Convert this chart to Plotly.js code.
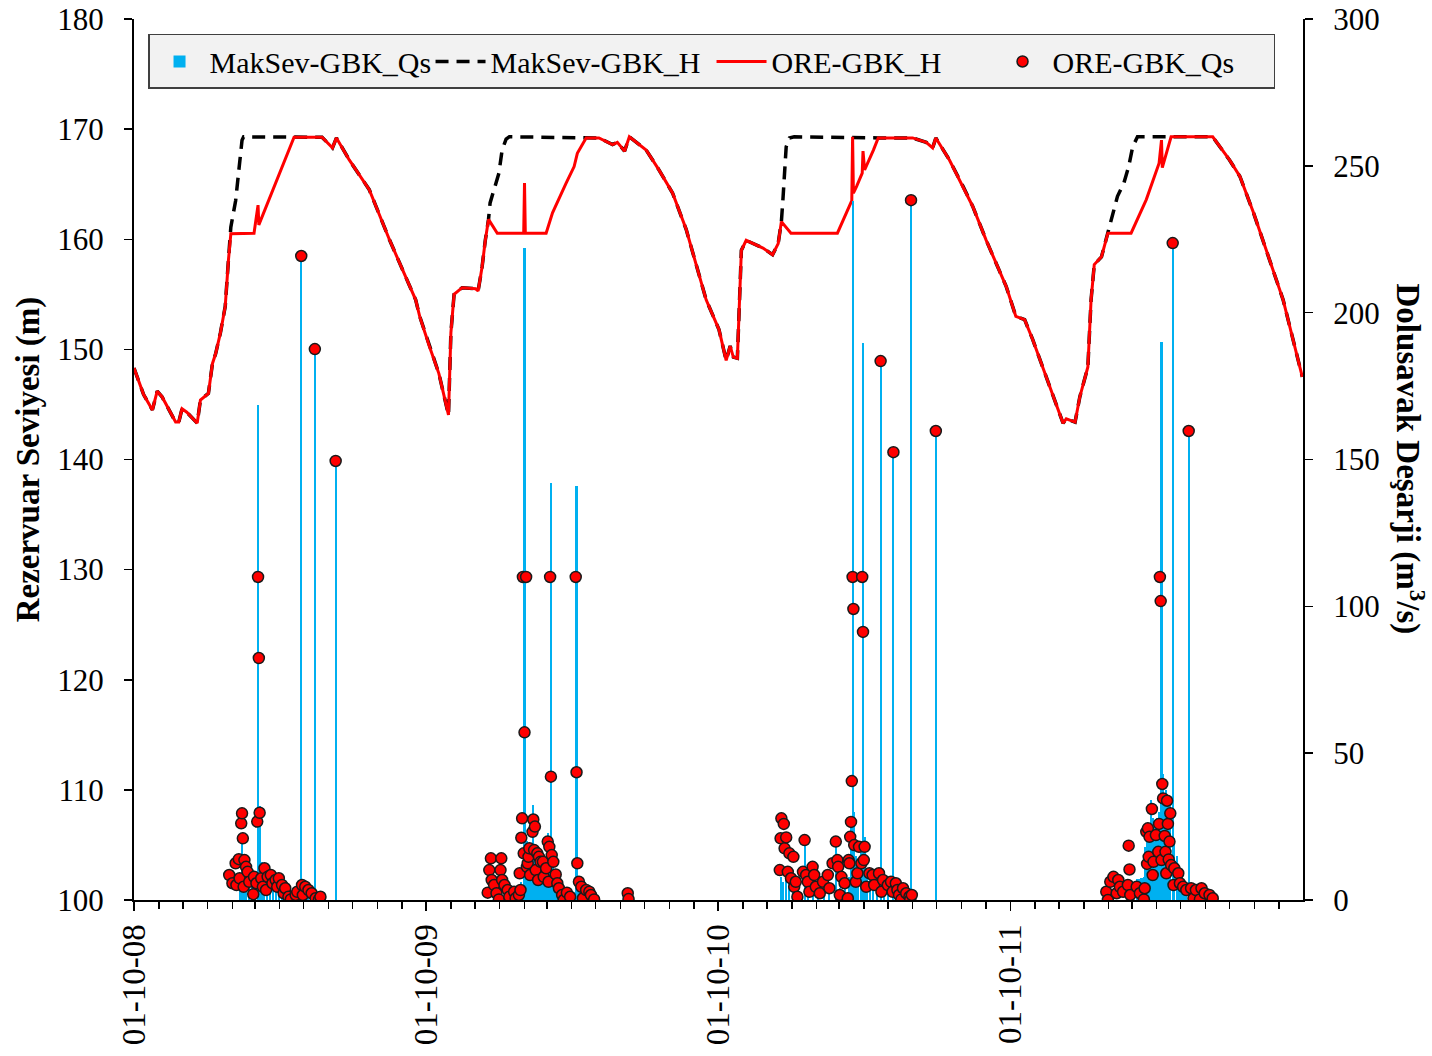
<!DOCTYPE html>
<html>
<head>
<meta charset="utf-8">
<script src="https://cdn.plot.ly/plotly-3.0.1.min.js"></script>
<style>body{margin:0;background:#fff}#chart{width:1432px;height:1056px}</style>
</head>
<body>
<div id="chart"></div>
<script>
// ORE-GBK_H (reservoir level, m)
const oreHDates = ['2008-10-01','2008-10-13','2008-10-24','2008-10-30','2008-11-05','2008-11-22','2008-11-26','2008-11-30','2008-12-06','2008-12-19','2008-12-23','2009-01-02','2009-01-07','2009-01-11','2009-01-17','2009-01-23','2009-01-27','2009-01-30','2009-02-28','2009-03-05','2009-03-06','2009-04-19','2009-05-24','2009-06-06','2009-06-11','2009-06-27','2009-07-22','2009-08-16','2009-09-18',
'2009-09-23','2009-10-05','2009-10-17','2009-10-29','2009-11-01','2009-11-05','2009-11-15','2009-12-02','2009-12-05','2009-12-08','2009-12-10','2009-12-14','2009-12-18','2009-12-29','2010-01-31','2010-02-01','2010-02-02','2010-02-28','2010-03-08','2010-03-25','2010-04-04','2010-04-08','2010-04-19','2010-05-05','2010-05-22','2010-05-28','2010-06-06','2010-06-12','2010-07-03','2010-07-19','2010-08-05','2010-08-22','2010-09-16','2010-10-02',
'2010-10-11','2010-10-16','2010-10-20','2010-10-25','2010-10-30','2010-11-05','2010-11-26','2010-12-08','2010-12-15','2010-12-19','2010-12-31','2011-02-27','2011-03-10','2011-03-17','2011-03-18','2011-03-19','2011-03-23','2011-03-30','2011-03-31','2011-04-02','2011-04-13','2011-04-19','2011-06-01','2011-06-18','2011-06-26','2011-06-30','2011-07-17','2011-08-03','2011-08-15','2011-09-01','2011-09-22',
'2011-09-26','2011-10-08','2011-10-19','2011-10-29','2011-11-15','2011-12-06','2011-12-10','2011-12-21','2011-12-27','2012-01-06','2012-01-10','2012-01-14','2012-01-23','2012-01-31','2012-02-29','2012-03-19','2012-04-04','2012-04-07','2012-04-08','2012-04-19','2012-06-10','2012-07-01','2012-07-14','2012-07-31','2012-08-16','2012-09-06','2012-09-30'];
const oreH = [148.3,145.9,144.5,146.2,145.7,143.4,143.4,144.6,144.3,143.3,145.4,146.0,148.7,149.6,151.5,153.9,158.1,160.5,160.55,163.1,161.3,169.26,169.26,168.3,169.2,167.2,164.5,160.0,154.5,
153.0,150.3,147.8,144.05,151.5,155.0,155.6,155.5,155.3,156.6,157.5,159.9,161.8,160.55,160.55,165.1,160.55,160.55,162.4,165.1,166.6,167.8,169.2,169.2,168.6,168.8,168.0,169.3,168.1,166.3,164.2,160.9,154.5,151.8,
149.0,150.3,149.3,149.2,159.0,159.9,159.2,158.6,159.6,161.6,160.55,160.55,162.4,163.5,169.3,164.2,164.8,166.0,168.0,166.3,168.1,169.2,169.2,168.8,168.3,169.2,167.2,164.8,163.0,159.9,156.3,
155.7,153.0,152.7,150.9,147.5,143.3,143.7,143.4,145.7,148.4,154.5,157.7,158.4,160.55,160.55,163.6,166.9,169.0,166.5,169.3,169.3,167.2,165.7,162.4,159.0,154.5,147.5];

// MakSev-GBK_H (reservoir level, m)
const maksevHDates = ['2008-10-01','2008-10-13','2008-10-24','2008-10-30','2008-11-05','2008-11-22','2008-11-26','2008-11-30','2008-12-06','2008-12-19','2008-12-23','2009-01-02','2009-01-07','2009-01-11','2009-01-17','2009-01-23','2009-01-27','2009-01-30','2009-02-05','2009-02-09','2009-02-13','2009-02-15','2009-04-19','2009-05-24','2009-06-06','2009-06-11','2009-06-27','2009-07-22','2009-08-16','2009-09-18',
'2009-09-23','2009-10-05','2009-10-17','2009-10-29','2009-11-01','2009-11-05','2009-11-15','2009-12-02','2009-12-05','2009-12-08','2009-12-10','2009-12-14','2009-12-18','2009-12-20','2009-12-31','2010-01-04','2010-01-09','2010-01-13','2010-04-19','2010-05-05','2010-05-22','2010-05-28','2010-06-06','2010-06-12','2010-07-03','2010-07-19','2010-08-05','2010-08-22','2010-09-16','2010-10-02',
'2010-10-11','2010-10-16','2010-10-20','2010-10-25','2010-10-30','2010-11-05','2010-11-26','2010-12-08','2010-12-15','2010-12-19','2010-12-21','2010-12-23','2010-12-25','2010-12-29','2011-01-04','2011-04-19','2011-06-01','2011-06-18','2011-06-26','2011-06-30','2011-07-17','2011-08-03','2011-08-15','2011-09-01','2011-09-22',
'2011-09-26','2011-10-08','2011-10-19','2011-10-29','2011-11-15','2011-12-06','2011-12-10','2011-12-21','2011-12-27','2012-01-06','2012-01-10','2012-01-14','2012-01-23','2012-01-31','2012-02-04','2012-02-12','2012-02-20','2012-02-26','2012-03-02','2012-03-08','2012-04-19','2012-06-10','2012-07-01','2012-07-14','2012-07-31','2012-08-16','2012-09-06','2012-09-30'];
const maksevH = [148.3,145.9,144.5,146.2,145.7,143.4,143.4,144.6,144.3,143.3,145.4,146.0,148.7,149.6,151.5,153.9,158.1,161.1,163.5,166.0,169.0,169.3,169.26,169.26,168.3,169.2,167.2,164.5,160.0,154.5,
153.0,150.3,147.8,144.05,151.5,155.0,155.6,155.5,155.3,156.6,157.5,159.9,161.8,163.3,166.0,168.1,169.1,169.3,169.2,169.2,168.6,168.8,168.0,169.3,168.1,166.3,164.2,160.9,154.5,151.8,
149.0,150.3,149.3,149.2,159.0,159.9,159.2,158.6,159.6,161.6,163.7,166.0,168.4,169.2,169.3,169.2,169.2,168.8,168.3,169.2,167.2,164.8,163.0,159.9,156.3,
155.7,153.0,152.7,150.9,147.5,143.3,143.7,143.4,145.7,148.4,154.5,157.7,158.4,160.55,161.8,163.9,165.1,166.6,168.4,169.3,169.3,169.3,167.2,165.7,162.4,159.0,154.5,147.5];

// MakSev-GBK_Qs (spillway discharge, m3/s)
const maksevQsDates = ['2009-02-11','2009-02-13','2009-02-16','2009-02-18','2009-02-22','2009-02-26','2009-03-01','2009-03-05','2009-03-07','2009-03-10','2009-03-13','2009-03-16','2009-03-20','2009-03-24','2009-03-28','2009-03-31','2009-04-04','2009-04-08','2009-04-12','2009-04-15','2009-04-20','2009-04-28','2009-05-02','2009-05-07','2009-05-10','2009-05-15','2009-05-20','2009-06-10',
'2010-01-28','2010-02-01','2010-02-02','2010-02-04','2010-02-06','2010-02-08','2010-02-10','2010-02-12','2010-02-14','2010-02-16','2010-02-18','2010-02-20','2010-02-22','2010-02-24','2010-02-26','2010-02-28','2010-03-02','2010-03-04','2010-03-06','2010-03-08','2010-03-10','2010-03-13','2010-03-16','2010-03-20','2010-03-25','2010-03-30','2010-04-07','2010-04-08','2010-04-10','2010-04-13','2010-04-16','2010-04-20',
'2010-12-18','2010-12-21','2010-12-25','2010-12-29','2011-01-02','2011-01-06','2011-01-10','2011-01-17','2011-01-21','2011-01-27','2011-02-03','2011-02-10','2011-02-17','2011-02-25','2011-03-02','2011-03-08','2011-03-13','2011-03-16','2011-03-18','2011-03-20','2011-03-22','2011-03-25','2011-03-28','2011-03-31','2011-04-02','2011-04-05','2011-04-09','2011-04-13','2011-04-17','2011-04-22','2011-04-26','2011-05-01','2011-05-08','2011-05-13','2011-05-20','2011-05-30','2011-06-30',
'2012-03-07','2012-03-10','2012-03-13','2012-03-16','2012-03-18','2012-03-20','2012-03-23','2012-03-25','2012-03-27','2012-03-30','2012-04-02','2012-04-04','2012-04-07','2012-04-09','2012-04-11','2012-04-13','2012-04-15','2012-04-17','2012-04-21','2012-04-23','2012-04-26','2012-04-29','2012-05-02','2012-05-05','2012-05-08','2012-05-11','2012-05-14','2012-05-18','2012-05-22','2012-05-26','2012-06-01','2012-06-06'];
const maksevQs = [6,19,10,8,7,9,8,168.5,32,13,12,11,10,8,9,8,6,5,3,2,2,219.3,3,3,2,187.6,1,149.5,
6,222,33.5,20,14,12,15,32.3,18,14,12,10,11,9,10,12,22.7,15,142,12,8,6,4,2,3,4,141,21,8,4,3,2,
8,6,10,9,6,4,3,20,5,6,3,4,5,19.9,4,4,8,25,238,30,15,12,20,189.7,21.5,10,8,7,6,183.5,5,4,152.5,3,2,238.3,159.7,
7,7,7.5,8,18,23,26,34,28,25,28,30,190,43,35,37.5,33,32,223.7,21,15,10,8,5,4,159.7,4,3,2,2,1,1];

// ORE-GBK_Qs (spillway discharge, m3/s)
const oreQsDates = ['2009-01-28','2009-02-01','2009-02-05','2009-02-06','2009-02-09','2009-02-10','2009-02-12','2009-02-13','2009-02-14','2009-02-15','2009-02-16','2009-02-18','2009-02-20','2009-02-22','2009-02-27','2009-02-28','2009-03-03','2009-03-04','2009-03-05','2009-03-06','2009-03-07','2009-03-09','2009-03-11','2009-03-13','2009-03-15','2009-03-17','2009-03-21','2009-03-23','2009-03-27','2009-03-29','2009-03-31','2009-04-04','2009-04-06','2009-04-08','2009-04-12','2009-04-15','2009-04-21','2009-04-23','2009-04-28','2009-04-29','2009-04-30','2009-05-03','2009-05-07','2009-05-11','2009-05-15','2009-05-16','2009-05-20','2009-05-22','2009-06-10',
'2009-12-17','2009-12-19','2009-12-21','2009-12-22','2009-12-25','2009-12-28','2009-12-31','2010-01-02','2010-01-03','2010-01-04','2010-01-07','2010-01-11','2010-01-13','2010-01-19','2010-01-21','2010-01-25','2010-01-26','2010-01-27','2010-01-28','2010-01-29','2010-01-30','2010-01-31','2010-02-01','2010-02-03','2010-02-04','2010-02-05','2010-02-06','2010-02-07','2010-02-08','2010-02-11','2010-02-12','2010-02-13','2010-02-14','2010-02-15','2010-02-17','2010-02-18','2010-02-19','2010-02-21','2010-02-24','2010-02-25','2010-02-28','2010-03-02','2010-03-03','2010-03-04','2010-03-05','2010-03-06','2010-03-07','2010-03-09','2010-03-12','2010-03-14','2010-03-16','2010-03-20','2010-03-22','2010-03-26','2010-03-30','2010-04-06','2010-04-07','2010-04-08','2010-04-10','2010-04-13','2010-04-15','2010-04-19','2010-04-23','2010-04-25','2010-04-29','2010-06-10','2010-06-11',
'2010-12-17','2010-12-18','2010-12-19','2010-12-22','2010-12-23','2010-12-25','2010-12-27','2010-12-29','2010-12-31','2011-01-03','2011-01-04','2011-01-06','2011-01-08','2011-01-15','2011-01-17','2011-01-19','2011-01-21','2011-01-23','2011-01-27','2011-01-29','2011-01-31','2011-02-05','2011-02-09','2011-02-15','2011-02-17','2011-02-21','2011-02-25','2011-02-27','2011-02-28','2011-03-02','2011-03-04','2011-03-08','2011-03-12','2011-03-13','2011-03-14','2011-03-15','2011-03-16','2011-03-17','2011-03-18','2011-03-19','2011-03-20','2011-03-22','2011-03-24','2011-03-26','2011-03-29','2011-03-30','2011-03-31','2011-04-01','2011-04-02','2011-04-04','2011-04-08','2011-04-12','2011-04-14','2011-04-20','2011-04-22','2011-04-23','2011-04-25','2011-05-01','2011-05-05','2011-05-07','2011-05-08','2011-05-11','2011-05-13','2011-05-15','2011-05-18','2011-05-20','2011-05-24','2011-05-28','2011-05-29','2011-05-30','2011-05-31','2011-06-30',
'2012-01-29','2012-01-31','2012-02-03','2012-02-07','2012-02-11','2012-02-13','2012-02-15','2012-02-19','2012-02-25','2012-02-26','2012-02-27','2012-02-28','2012-03-07','2012-03-11','2012-03-16','2012-03-17','2012-03-19','2012-03-20','2012-03-21','2012-03-22','2012-03-23','2012-03-26','2012-03-27','2012-03-28','2012-03-31','2012-04-03','2012-04-04','2012-04-05','2012-04-06','2012-04-07','2012-04-08','2012-04-09','2012-04-11','2012-04-12','2012-04-13','2012-04-14','2012-04-15','2012-04-16','2012-04-17','2012-04-18','2012-04-19','2012-04-21','2012-04-22','2012-04-23','2012-04-28','2012-04-30','2012-05-04','2012-05-08','2012-05-11','2012-05-14','2012-05-17','2012-05-20','2012-05-25','2012-05-27','2012-05-31','2012-06-06','2012-06-10'];
const oreQs = [8.5,5.7,12.5,5.1,13.9,7.4,26.1,29.5,21.0,4.5,13.6,11.3,9.6,6.2,2.0,7.9,5.7,26.7,110,82.4,29.7,7.4,4.5,10.8,3.4,7.9,8.5,5.7,6.8,4.5,7.4,5.1,2.3,4.0,1.1,0.2,1.7,2.8,219.3,5.1,1.7,4.5,3.4,2.3,187.6,0.6,0.1,1.1,149.5,
2.5,10.2,14.2,6.8,5.1,2.3,0.2,10.2,14.2,6.8,5.1,3.4,1.1,2.8,0.6,1.7,9.1,3.4,21.2,27.8,110,15.9,57.1,110,11.3,12.5,14.7,17.6,8.5,23.2,27.4,17.0,25.0,10.2,15.9,6.8,14.7,13.0,13.0,7.9,10.8,19.9,6.2,18.1,110,42.0,15.3,13.0,8.7,5.7,4.0,1.7,0,2.5,1.1,110,43.5,12.5,6.2,4.5,0.6,3.4,2.8,1.7,0.2,2.3,0.3,
10.2,21.0,27.8,25.9,17.6,21.3,9.6,15.9,7.4,14.7,4.5,6.2,1.1,9.6,20.4,8.5,6.2,2.8,11.3,8.5,4.5,2.3,6.2,8.5,4.0,12.5,19.9,13.6,11.3,1.7,7.9,5.7,0.6,13.6,12.5,21.5,26.6,40.5,110,99.1,18.7,6.2,9.1,18.1,12.5,110,91.3,13.6,18.1,4.5,9.1,8.5,5.1,9.1,183.5,2.8,6.8,5.1,6.2,2.8,152.5,5.7,3.4,1.7,0.2,4.0,2.3,1.1,0,238.3,1.7,159.7,
2.8,0,6.2,7.9,2.3,6.8,4.5,2.8,5.1,18.5,10.4,1.7,4.5,2.3,0.2,4.0,23.2,12.3,24.4,14.7,21.5,31.0,8.5,13.0,22.1,16.4,25.9,110,101.8,13.6,39.5,34.6,21.8,16.4,9.1,33.8,25.9,13.8,19.9,29.5,11.9,223.7,5.1,10.8,9.1,5.7,4.5,3.4,159.7,4.0,0.6,3.4,0.2,4.0,2.3,1.7,0.6];

const FONT = 'Liberation Serif, Times New Roman, serif';
const DAY = 86400000;

const traces = [
  {type:'bar', name:'MakSev-GBK_Qs', x:maksevQsDates, y:maksevQs, yaxis:'y2',
   width:maksevQsDates.map(()=>2.6*DAY), marker:{color:'#00B0F0', line:{width:0}}},
  {type:'scatter', mode:'lines', name:'MakSev-GBK_H', x:maksevHDates, y:maksevH,
   line:{color:'#000000', width:3.5, dash:'13px,8px'}},
  {type:'scatter', mode:'lines', name:'ORE-GBK_H', x:oreHDates, y:oreH,
   line:{color:'#FF0000', width:3}},
  {type:'scatter', mode:'markers', name:'ORE-GBK_Qs', x:oreQsDates, y:oreQs, yaxis:'y2',
   marker:{color:'#FF0000', size:11, line:{color:'#1a1a1a', width:1.5}}}
];

const layout = {
  width:1432, height:1056,
  margin:{l:134, r:129, t:19, b:156},
  paper_bgcolor:'#ffffff', plot_bgcolor:'#ffffff',
  font:{family:FONT, color:'#000', size:30},
  showlegend:true,
  bargap:0,
  legend:{orientation:'h', x:0.012, y:0.983, xanchor:'left', yanchor:'top',
    bgcolor:'#F2F2F2', bordercolor:'#404040', borderwidth:1.5, itemwidth:50,
    font:{family:FONT, size:30, color:'#000'}, entrywidth:216, traceorder:'normal'},
  xaxis:{type:'date', range:['2008-10-01','2012-09-30 20:00'], tick0:'2008-10-01', dtick:'M12',
    tickformat:'%d-%m-%y', tickangle:-90, ticks:'outside', ticklen:9, tickwidth:1.5, tickcolor:'#000',
    tickfont:{family:FONT, size:33, color:'#000'},
    minor:{dtick:'M1', tick0:'2008-10-01', ticks:'outside', ticklen:7, tickwidth:1.5, tickcolor:'#000', showgrid:false},
    showline:true, linecolor:'#000', linewidth:2, showgrid:false, zeroline:false},
  yaxis:{range:[100,180], dtick:10, ticks:'outside', ticklen:8, tickwidth:1.5, tickcolor:'#000',
    ticklabelstandoff:14,
    tickfont:{family:FONT, size:31, color:'#000'},
    showline:true, linecolor:'#000', linewidth:2, showgrid:false, zeroline:false,
    title:{text:'<b>Rezervuar Seviyesi (m)</b>', font:{family:FONT, size:33, color:'#000'}, standoff:8}},
  yaxis2:{range:[0,300], dtick:50, overlaying:'y', side:'right', ticks:'outside', ticklen:8, tickwidth:1.5, tickcolor:'#000',
    ticklabelstandoff:14,
    tickfont:{family:FONT, size:31, color:'#000'},
    showline:true, linecolor:'#000', linewidth:2, showgrid:false, zeroline:false},
  annotations:[{text:'<b>Dolusavak Deşarji (m<sup>3</sup>/s)</b>', xref:'paper', yref:'paper',
    x:1.0915, y:0.5, xanchor:'center', yanchor:'middle', textangle:90, showarrow:false,
    font:{family:FONT, size:33, color:'#000'}}]
};

Plotly.newPlot('chart', traces, layout, {staticPlot:true, displayModeBar:false});
</script>
</body>
</html>
